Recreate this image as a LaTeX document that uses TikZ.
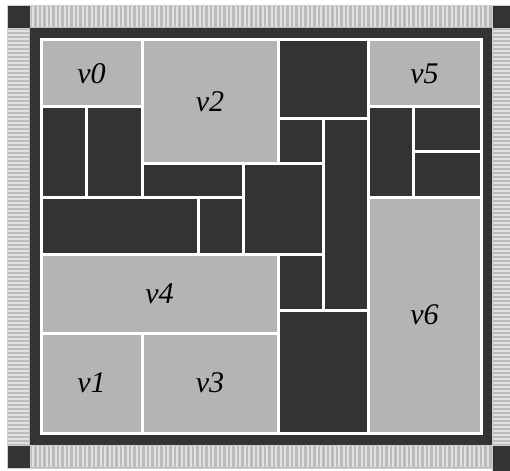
\documentclass[tikz,border=0pt]{standalone}
\usepackage{fontspec}
\setmainfont{Liberation Serif}
\usepackage{xcolor}
\usepackage{tikz}
\definecolor{darkfill}{RGB}{51,51,51}
\definecolor{gatefill}{RGB}{180,180,180}
\definecolor{stripebase}{RGB}{188,188,188}
\definecolor{stripelight}{RGB}{225,225,225}
\definecolor{rimline}{RGB}{205,205,205}
\tikzset{
  cell/.style  ={draw=white, line width=3pt, inner sep=0pt, outer sep=0pt, anchor=center},
  dark/.style  ={cell, fill=darkfill},
  block/.style ={cell, fill=gatefill, font=\itshape\fontsize{30}{33}\selectfont},
  stripe/.style={draw=stripelight, line width=2pt},
  rim/.style   ={fill=stripebase, draw=rimline, line width=0.8pt},
  corner/.style={fill=darkfill, draw=rimline, line width=0.8pt}
}

\begin{document}
\begin{tikzpicture}[x=1pt, y=-1pt]
  \useasboundingbox (0,0) rectangle (510,470);
  % frame
  \fill[white] (0,0) rectangle (510,470);
  \draw[rim] (30,5) rectangle (492,28);
  \draw[rim] (30,445) rectangle (492,468);
  \draw[rim] (7,28) rectangle (30,445);
  \draw[rim] (492,28) rectangle (512,445);
  \foreach \x in {33,37.5,...,490} {
    \draw[stripe] (\x,6) -- (\x,27);
    \draw[stripe] (\x,446) -- (\x,467);
  }
  \foreach \y in {31,35,...,443} {
    \draw[stripe] (8,\y) -- (29,\y);
    \draw[stripe] (493,\y) -- (511,\y);
  }
  \draw[corner] (7,5) rectangle (30,28);
  \draw[corner] (492,5) rectangle (512,28);
  \draw[corner] (7,445) rectangle (30,468);
  \draw[corner] (492,445) rectangle (512,472);
  \fill[darkfill] (30,28) rectangle (492,445);
  % labelled blocks
  \node[block, minimum width=101pt, minimum height=67pt]  (v0) at (91.5,73.5)  {v0};
  \node[block, minimum width=136pt, minimum height=124pt] (v2) at (210,102)    {v2};
  \node[block, minimum width=113pt, minimum height=67pt]  (v5) at (424.5,73.5) {v5};
  \node[block, minimum width=237pt, minimum height=79pt]  (v4) at (159.5,293.5) {v4};
  \node[block, minimum width=113pt, minimum height=236pt] (v6) at (424.5,315)  {v6};
  \node[block, minimum width=101pt, minimum height=100pt] (v1) at (91.5,383)   {v1};
  \node[block, minimum width=136pt, minimum height=100pt] (v3) at (210,383)    {v3};
  % dark blocks
  \node[dark, minimum width=90pt,    minimum height=79pt]  (d1)  at (323,79.5)    {};
  \node[dark, minimum width=45.5pt,  minimum height=90pt]  (d2)  at (63.75,152)   {};
  \node[dark, minimum width=55.5pt,  minimum height=90pt]  (d3)  at (114.25,152)  {};
  \node[dark, minimum width=101.5pt, minimum height=33pt]  (d4)  at (192.75,180.5) {};
  \node[dark, minimum width=45pt,    minimum height=45pt]  (d5)  at (300.5,141.5) {};
  \node[dark, minimum width=45pt,    minimum height=191pt] (d6)  at (345.5,214.5) {};
  \node[dark, minimum width=79.5pt,  minimum height=90pt]  (d7)  at (283.25,209)  {};
  \node[dark, minimum width=45pt,    minimum height=90pt]  (d8)  at (390.5,152)   {};
  \node[dark, minimum width=68pt,    minimum height=45pt]  (d9)  at (447,129.5)   {};
  \node[dark, minimum width=68pt,    minimum height=45pt]  (d10) at (447,174.5)   {};
  \node[dark, minimum width=157.5pt, minimum height=57pt]  (d11) at (119.75,225.5) {};
  \node[dark, minimum width=45pt,    minimum height=57pt]  (d12) at (221,225.5)   {};
  \node[dark, minimum width=45pt,    minimum height=56pt]  (d13) at (300.5,282)   {};
  \node[dark, minimum width=90pt,    minimum height=123pt] (d14) at (323,371.5)   {};
\end{tikzpicture}
\end{document}
